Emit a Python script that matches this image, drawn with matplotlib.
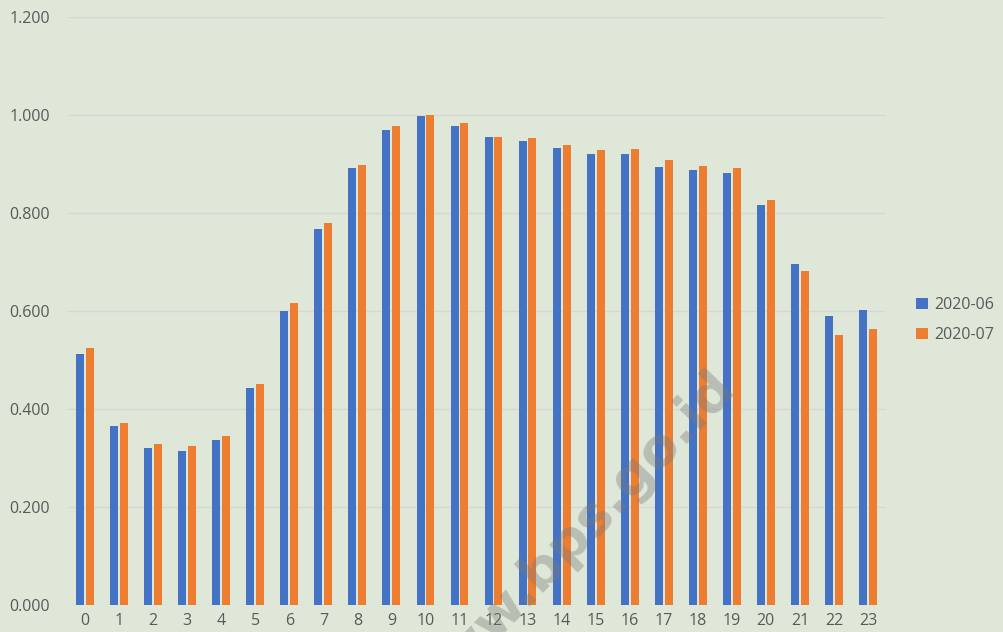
import numpy as np
import matplotlib.pyplot as plt

# hourly values
hours = [str(h) for h in range(24)]
jun = [0.513, 0.365, 0.321, 0.315, 0.337, 0.443, 0.599, 0.767, 0.892, 0.969,
       0.998, 0.977, 0.955, 0.946, 0.932, 0.921, 0.920, 0.894, 0.888, 0.882,
       0.816, 0.696, 0.589, 0.602]
jul = [0.524, 0.371, 0.328, 0.324, 0.345, 0.452, 0.616, 0.780, 0.897, 0.977,
       1.000, 0.984, 0.955, 0.954, 0.939, 0.929, 0.931, 0.908, 0.896, 0.892,
       0.826, 0.682, 0.552, 0.564]
series_names = ['2020-06', '2020-07']
yticks = [0.0, 0.2, 0.4, 0.6, 0.8, 1.0, 1.2]

bg = '#dfe8d8'
W, H = 1004, 632
fig = plt.figure(figsize=(W / 100, H / 100), dpi=100, facecolor=bg)
ax = fig.add_axes([68 / W, (H - 605) / H, (885 - 68) / W, (605 - 17) / H])
ax.set_facecolor(bg)

x = np.arange(len(hours))
bw = 0.235
off = 0.145
ax.bar(x - off, jun, bw, color='#4472c4', label=series_names[0], zorder=3)
ax.bar(x + off, jul, bw, color='#ed7d31', label=series_names[1], zorder=3)

ax.set_xlim(-0.5, len(hours) - 0.5)
ax.set_ylim(0, 1.2)
ax.set_yticks(yticks)
ax.set_yticklabels(['%.3f' % v for v in yticks])
ax.set_xticks(x)
ax.set_xticklabels(hours)
ax.grid(axis='y', color='#d6d6d6', linewidth=1, zorder=0)
ax.set_axisbelow(True)
for s in ax.spines.values():
    s.set_visible(False)
ax.tick_params(axis='y', length=0, pad=13, labelsize=11.5, labelcolor='#595959')
ax.tick_params(axis='x', length=0, pad=6, labelsize=11.5, labelcolor='#595959')
for lab in ax.get_xticklabels() + ax.get_yticklabels():
    lab.set_family('Open Sans')

leg = fig.legend(loc='center left', bbox_to_anchor=(902 / W, 1 - 320 / H),
                 frameon=False, handlelength=0.7, handleheight=0.7,
                 handletextpad=0.4, labelspacing=0.9,
                 prop={'family': 'Open Sans', 'size': 11.5})
for t in leg.get_texts():
    t.set_color('#595959')

# watermark
fig.text(570 / W, 1 - 542 / H, 'www.bps.go.id', fontsize=39, fontweight='bold',
         color='#7a7a7a', alpha=0.38, rotation=46, ha='center', va='center',
         family='DejaVu Sans', zorder=10)

fig.savefig('out.png', dpi=100, facecolor=bg)
